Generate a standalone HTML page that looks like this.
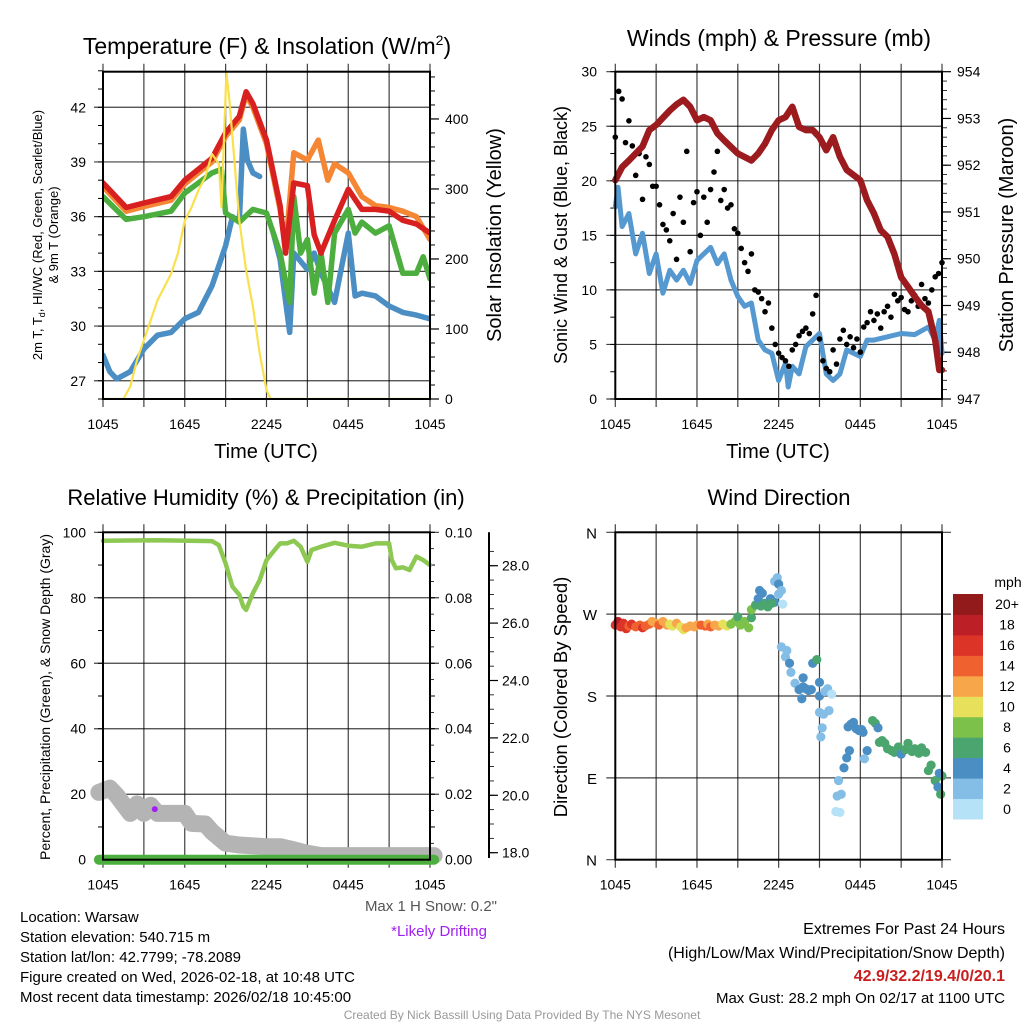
<!DOCTYPE html>
<html><head><meta charset="utf-8"><style>
body{margin:0;background:#fff;}
svg{display:block;font-family:"Liberation Sans",sans-serif;}
</style></head><body>
<svg id="c" width="1024" height="1024" viewBox="0 0 1024 1024" xmlns="http://www.w3.org/2000/svg"></svg>
<script>
// ---------- data ----------
const xTickLabels = ["1045","1645","2245","0445","1045"];
// Panel 1 temperature
const redT  = [0,1.7,3,5,6,7,8,9,10,10.5,11,12,13,13.4,14,15,15.5,16,17,18,19,20,21,22,23,24];
const redV  = [37.85,36.5,36.75,37.1,38.0,38.6,39.2,40.6,41.5,42.85,42.2,40.2,36.6,34.0,37.85,37.7,35,34,35.8,37.5,36.4,36.4,36.3,35.8,35.6,35.1];
const orgT  = [0,1.7,3,5,6,7,8,9,10,10.5,11,12,13,13.4,14,15,15.8,16.5,17,18,19,20,21,22,23,24];
const orgV  = [37.65,36.3,36.55,36.9,37.8,38.4,39.0,40.4,41.3,42.7,42.0,40.0,36.4,34.3,39.5,39.1,40.2,38.0,38.9,38.4,37.1,36.6,36.5,36.3,36.0,34.75];
const grnT  = [0,1.7,3,5,6,7,8,8.7,9,10,11,12,13,13.7,14,14.5,15,15.5,16,16.5,17,18,18.5,19,20,21,22,23,23.5,24];
const grnV  = [37.1,35.85,36.0,36.3,37.3,37.85,38.4,38.6,36.2,35.7,36.4,36.2,34,31.3,37.1,34,34.75,31.8,34,31.3,35.1,36.4,35.1,35.7,35.1,35.5,32.9,32.9,33.8,32.6];
const bluT  = [0,0.5,1,2,3,4,5,6,7,8,9,9.5,10,10.3,10.6,11,11.5,null,12.5,13,13.7,14,15,15.5,16,17,18,18.5,19,20,21,22,23,24];
const bluV  = [28.4,27.5,27.1,27.5,28.75,29.5,29.65,30.4,30.75,32.2,34.4,36,35.7,40.8,39.1,38.4,38.2,null,35.1,33.65,29.65,34,33.1,34,32.9,31.3,35.1,31.65,31.8,31.65,31.1,30.75,30.6,30.4];
const solT  = [0,1.5,2,2.5,3,4,5,5.5,6,6.5,7,7.5,8,8.5,8.7,9.06,9.3,10,10.5,11,11.5,12,12.3,24];
const solV  = [0,0,18,56,84,141,179,208,255,274,298,317,350,336,274,467,422,255,184,132,65,13,0,0];
const tempTicks = [27,30,33,36,39,42];
const solTicks = [0,100,200,300,400];
// Panel 2 winds/pressure
const presT = [0,0.5,1,2,2.5,3,4,4.5,5,5.5,6,6.5,7,7.5,8,9,10,10.5,11,11.5,12,12.5,13,13.5,14,14.5,15,15.5,16,16.5,17,18,18.5,19,19.5,20,20.5,21,21.5,22,22.5,23,23.5,23.8,24];
const presV = [951.68,951.96,952.1,952.4,952.75,952.86,953.17,953.3,953.4,953.25,952.96,953.03,952.96,952.68,952.53,952.25,952.1,952.25,952.46,952.75,952.96,953.03,953.25,952.82,952.75,952.75,952.6,952.32,952.6,952.18,951.9,951.68,951.25,950.97,950.61,950.47,950.1,949.6,949.4,949.19,949.0,948.87,948.26,947.62,947.62];
const windT = [0,0.2,0.5,1,1.5,2,2.5,3,3.5,4,4.5,5,5.5,6,7,7.5,8,8.5,9,9.5,10,10.5,11,11.5,12,12.5,12.7,13,13.5,14,14.5,15,15.5,16,16.5,17,17.5,18,18.5,19,20,21,22,23,23.5,23.8,24];
const windV = [17.6,19.4,15.8,17.0,13.3,15.2,11.5,13.3,9.7,11.8,10.9,11.8,10.6,12.7,13.9,12.4,13.3,10.9,9.4,8.5,8.8,5.4,4.5,4.2,1.7,3.3,1.1,3.0,2.3,4.8,5.4,6.0,2.3,1.7,2.3,4.5,4.2,3.9,5.4,5.4,5.7,6.0,5.9,6.6,5.4,7.2,4.2];
const gustV = [24,28.2,27.5,23.5,25.5,23.2,20.5,22.5,18.3,22.2,21.5,19.5,19.5,17.8,16.0,15.5,14.5,17.0,12.8,18.5,16.2,22.7,13.5,18.0,19.0,15.0,18.5,16.2,19.2,20.8,22.7,18.2,19.2,17.5,17.8,15.6,15.2,13.8,12.5,11.7,13.3,10.0,9.8,9.2,8.0,8.8,6.5,5.0,4.2,3.8,3.5,3.0,4.5,5.0,5.8,6.2,6.5,6.0,7.8,9.5,5.5,3.5,2.8,2.5,4.5,3.2,5.5,6.3,5.0,5.7,4.7,5.5,4.3,6.6,7.0,8.0,7.2,7.8,6.5,8.0,8.5,7.5,9.6,9.0,9.3,8.2,8.0,9.0,9.5,8.5,10.5,9.2,8.8,10.0,11.2,11.5,12.5];
const windTicks = [0,5,10,15,20,25,30];
const presTicks = [947,948,949,950,951,952,953,954];
// Panel 3 RH / precip / snow
const rhT = [0,4,8,8.5,9,9.5,10,10.3,10.5,11,11.5,12,12.5,13,13.5,14,14.5,15,15.3,16,17,18,19,20,21,21.2,21.5,22,22.5,23,23.5,24];
const rhV = [97.4,97.6,97.3,96.1,90.5,83.4,80.9,77.3,76.3,81.4,85.4,91.5,94.1,96.6,96.6,97.4,95.6,91,94.6,95.6,96.8,95.9,95.6,96.6,96.6,91.5,89.0,89.3,88.5,92.6,91.5,90];
const snowT = [-0.3,0.5,1,2,2.5,3,3.5,4,5,6,6.5,7.5,8,9,10,12,13,14,15,16,20,24.3];
const snowV = [20.1,20.25,20.0,19.37,19.7,19.37,19.65,19.37,19.37,19.37,19.02,19.0,18.73,18.33,18.27,18.21,18.21,18.1,17.98,17.9,17.9,17.9];
const precipT = [-0.3,24.3];
const precipV = [0,0];
const rhTicks = [0,20,40,60,80,100];
const prTicks = ["0.00","0.02","0.04","0.06","0.08","0.10"];
const snowTicks = [18,20,22,24,26,28];
const driftT = [3.8];
const driftV = [19.52];
// Panel 4 wind direction
const dirT = [0,0.2,0.4,0.6,0.8,1.0,1.2,1.5,1.8,2.0,2.2,2.5,2.7,3.0,3.2,3.5,3.8,4.0,4.2,4.5,4.8,5.0,5.2,5.5,5.8,6.0,6.3,6.6,6.8,7.0,7.3,7.6,7.9,8.2,8.5,8.8,9.0,9.2,9.5,9.8,10.0,10.0,10.3,10.5,10.6,10.8,11.0,11.2,11.4,11.7,11.7,11.9,12.0,12.2,12.3,12.0,11.5,10.7,
  12.2,12.5,12.8,12.6,12.9,13.2,13.5,13.7,13.8,14.0,14.2,14.4,13.8,14.5,14.8,15.0,15.0,15.4,15.6,15.9,15.0,15.3,15.7,15.2,15.1,
  16.2,16.5,16.3,16.6,16.4,16.8,17.0,17.2,17.1,17.3,17.5,17.7,17.9,18.2,18.5,18.3,18.1,18.9,19.1,19.3,19.4,19.6,19.8,
  20.0,20.3,20.5,20.8,21.0,21.3,21.5,21.8,22.0,22.3,22.5,22.8,23.0,23.2,23.5,23.7,23.9,24.0,23.8];
const dirD = [258,262,256,260,254,257,259,256,258,255,257,259,262,260,258,262,258,259,257,260,256,253,255,257,256,258,258,257,259,256,258,257,259,257,259,262,267,258,262,255,266,275,280,287,296,293,282,278,287,283,306,310,303,296,281,292,282,279,
  234,223,216,230,206,194,187,177,190,188,186,187,200,216,220,195,180,185,188,182,162,160,164,145,135,
  53,52,70,72,87,101,112,120,146,149,151,144,142,140,120,111,143,153,150,145,129,131,128,
  122,120,118,124,116,121,128,119,122,117,123,118,98,104,87,80,72,92,95];
const dirS = [17,18,17,16,17,15,16,15,14,16,15,14,12,12,14,12,12,10,10,12,10,10,12,12,12,12,14,14,12,14,12,12,10,10,8,8,6,8,8,8,6,8,6,4,4,4,6,6,4,4,2,2,4,2,0,2,6,6,
  2,2,4,2,2,2,4,4,4,4,4,4,4,4,6,4,4,2,2,0,2,2,2,2,2,
  0,0,2,2,2,4,4,4,4,4,4,4,4,4,4,2,4,6,6,4,6,6,6,
  6,6,6,6,4,6,6,6,6,6,6,6,6,6,6,4,6,6,4];
const cbLabels = ["0","2","4","6","8","10","12","14","16","18","20+"];
const cbColors = ["#b5e2f7","#84bde5","#4a8ec4","#4aa66e","#7cc14a","#e7e05a","#f7a64a","#f06130","#dc3427","#bd1f26","#931a1a"];
const dirTickLabels = ["N","E","S","W","N"];

// ---------- helpers ----------
const svg = document.getElementById('c');
const NS = "http://www.w3.org/2000/svg";
function el(tag, attrs, parent){
  const e = document.createElementNS(NS, tag);
  for (const k in attrs) e.setAttribute(k, attrs[k]);
  (parent||svg).appendChild(e);
  return e;
}
function txt(s, x, y, size, anchor, parent, fill, extra){
  const t = el('text', {x:x, y:y, 'font-size':size, 'text-anchor':anchor||'middle', fill:fill||'#000'}, parent);
  if (extra) for (const k in extra) t.setAttribute(k, extra[k]);
  t.textContent = s;
  return t;
}
function pathFrom(ts, vs, sx, sy){
  let d = "", pen = false;
  for (let i=0;i<ts.length;i++){
    if (ts[i]===null || vs[i]===null || vs[i]===undefined){ pen=false; continue; }
    d += (pen?"L":"M") + sx(ts[i]).toFixed(1) + "," + sy(vs[i]).toFixed(1);
    pen = true;
  }
  return d;
}
function frame(g, L, R, T, B, name){
  const sx = t => L + t*(R-L)/24;
  for (let h=0; h<=24; h+=3){
    const x = sx(h);
    const gl = el('line', {x1:x, y1:T-8, x2:x, y2:B+8, stroke:'#000', 'stroke-width':1.2, 'stroke-opacity':0.75}, g);
    
    
  }
  for (let i=0;i<xTickLabels.length;i++){
    const lt = txt(xTickLabels[i], sx(i*6), B+30, 14, 'middle', g);
    
    
  }
  return sx;
}
function border(g, L, R, T, B, name){
  const b = el('rect', {x:L, y:T, width:R-L, height:B-T, fill:'none', stroke:'#000', 'stroke-width':2}, g);
  
  
}
function hgrid(g, L, R, y, ext){
  el('line', {x1:L-9, y1:y, x2:R+(ext?9:0), y2:y, stroke:'#000', 'stroke-width':1.2, 'stroke-opacity':0.75}, g);
}

// ================= Panel 1 =================
{
  const L=103, R=430, T=71.7, B=399;
  const g = el('g', {});
  
  
  const sx = frame(g, L, R, T, B, 'temp');
  const sy = v => B - (v-26)*(B-T)/17.95;
  const ss = v => B - v*(B-T)/467.5;
  for (const v of tempTicks){ hgrid(g, L, R, sy(v), false);
    const t = txt(String(v), 86, sy(v)+5, 14, 'end', g);
    
     }
  for (let v=26; v<=44; v++){ el('line',{x1:L-5,y1:sy(v),x2:L,y2:sy(v),stroke:'#000','stroke-width':1}, g); }
  for (const v of solTicks){ el('line',{x1:R,y1:ss(v),x2:R+9,y2:ss(v),stroke:'#000','stroke-width':1.2}, g);
    const t = txt(String(v), R+15, ss(v)+5, 14, 'start', g);
    
     }
  for (let v=0; v<=460; v+=20){ el('line',{x1:R,y1:ss(v),x2:R+5,y2:ss(v),stroke:'#000','stroke-width':1}, g); }
  const cp = el('clipPath', {id:'cp1'}, g); el('rect',{x:L,y:T,width:R-L,height:B-T},cp);
  const lg = el('g', {'clip-path':'url(#cp1)'}, g);
  const pB = el('path', {d:pathFrom(bluT,bluV,sx,sy), fill:'none', stroke:'#4a8ec4', 'stroke-width':5.5, 'stroke-linejoin':'round','stroke-linecap':'round'}, lg);
   
  const pG = el('path', {d:pathFrom(grnT,grnV,sx,sy), fill:'none', stroke:'#4cae3e', 'stroke-width':5.5, 'stroke-linejoin':'round','stroke-linecap':'round'}, lg);
   
  const pO = el('path', {d:pathFrom(orgT,orgV,sx,sy), fill:'none', stroke:'#f58634', 'stroke-width':5.5, 'stroke-linejoin':'round','stroke-linecap':'round'}, lg);
   
  const pR = el('path', {d:pathFrom(redT,redV,sx,sy), fill:'none', stroke:'#d7201f', 'stroke-width':5.5, 'stroke-linejoin':'round','stroke-linecap':'round'}, lg);
   
  const pY = el('path', {d:pathFrom(solT,solV,sx,ss), fill:'none', stroke:'#f9e04c', 'stroke-width':2.2, 'stroke-linejoin':'round'}, lg);
   
  border(g, L, R, T, B, 'temp');
  const ti = el('text', {x:267, y:54, 'font-size':23, 'text-anchor':'middle'}, g);
  ti.innerHTML = 'Temperature (F) &amp; Insolation (W/m<tspan font-size="14" dy="-9">2</tspan><tspan dy="9">)</tspan>';
   
  const xt = txt('Time (UTC)', 266, 458, 20, 'middle', g);
   
  const y1 = el('text', {x:0,y:0,'font-size':13,'text-anchor':'middle',transform:'translate(42,235) rotate(-90)'}, g);
  y1.innerHTML = '2m T, T<tspan font-size="9" dy="3">d</tspan><tspan dy="-3">, HI/WC (Red, Green, Scarlet/Blue)</tspan>';
   
  const y2 = txt('& 9m T (Orange)', 0, 0, 13, 'middle', g, '#000', {transform:'translate(58,235) rotate(-90)'});
   
  const y3 = txt('Solar Insolation (Yellow)', 0, 0, 20, 'middle', g, '#000', {transform:'translate(501,235) rotate(-90)'});
   
}

// ================= Panel 2 =================
{
  const L=615.3, R=942, T=71.7, B=399;
  const g = el('g', {});
  
  
  const sx = frame(g, L, R, T, B, 'wind');
  const sy = v => B - v*(B-T)/30;
  const sp = v => B - (v-947)*(B-T)/7;
  for (const v of windTicks){ hgrid(g, L, R, sy(v), false);
    const t = txt(String(v), 597, sy(v)+5, 14, 'end', g);
      }
  for (let v=0; v<=30; v+=2.5){ el('line',{x1:L-5,y1:sy(v),x2:L,y2:sy(v),stroke:'#000','stroke-width':1}, g); }
  for (const v of presTicks){ el('line',{x1:R,y1:sp(v),x2:R+9,y2:sp(v),stroke:'#000','stroke-width':1.2}, g);
    const t = txt(String(v), R+15, sp(v)+5, 14, 'start', g);
      }
  for (let v=947; v<=954; v+=0.2){ el('line',{x1:R,y1:sp(v),x2:R+5,y2:sp(v),stroke:'#000','stroke-width':0.8}, g); }
  const cp = el('clipPath', {id:'cp2'}, g); el('rect',{x:L-4,y:T,width:R-L+8,height:B-T},cp);
  const lg = el('g', {'clip-path':'url(#cp2)'}, g);
  const pW = el('path', {d:pathFrom(windT,windV,sx,sy), fill:'none', stroke:'#5599d0', 'stroke-width':5, 'stroke-linejoin':'round','stroke-linecap':'round'}, lg);
   
  for (let i=0;i<gustV.length;i++){
    const c = el('circle', {cx:sx(i*0.25), cy:sy(gustV[i]), r:2.8, fill:'#000'}, lg);
     
  }
  const pP = el('path', {d:pathFrom(presT,presV,sx,sp), fill:'none', stroke:'#9b1b1e', 'stroke-width':6.5, 'stroke-linejoin':'round','stroke-linecap':'round'}, lg);
   
  border(g, L, R, T, B, 'wind');
  const ti = txt('Winds (mph) & Pressure (mb)', 779, 46, 23, 'middle', g);
   
  const xt = txt('Time (UTC)', 778, 458, 20, 'middle', g);
   
  const y1 = txt('Sonic Wind & Gust (Blue, Black)', 0, 0, 18, 'middle', g, '#000', {transform:'translate(567,235) rotate(-90)'});
   
  const y2 = txt('Station Pressure (Maroon)', 0, 0, 20, 'middle', g, '#000', {transform:'translate(1013,235) rotate(-90)'});
   
}

// ================= Panel 3 =================
{
  const L=103, R=430, T=532.3, B=859.7;
  const g = el('g', {});
  
  
  const sx = frame(g, L, R, T, B, 'rh');
  const sy = v => B - v*(B-T)/100;
  const sn = v => 852.7 - (v-18)*28.7;
  for (let i=0;i<rhTicks.length;i++){ const v=rhTicks[i]; hgrid(g, L, R, sy(v), true);
    const t = txt(String(v), 86, sy(v)+5, 14, 'end', g);
     
    const p = txt(prTicks[i], R+15, sy(v)+5, 14, 'start', g);
      }
  for (let v=0; v<=100; v+=10){ el('line',{x1:L-5,y1:sy(v),x2:L,y2:sy(v),stroke:'#000','stroke-width':1}, g);
    el('line',{x1:R,y1:sy(v),x2:R+5,y2:sy(v),stroke:'#000','stroke-width':1}, g); }
  for (let v=0; v<=100; v+=5){ el('line',{x1:R,y1:sy(v),x2:R+4,y2:sy(v),stroke:'#000','stroke-width':0.8}, g); }
  const ax = el('line',{x1:489,y1:T,x2:489,y2:858,stroke:'#000','stroke-width':2}, g);
   
  for (const v of snowTicks){ el('line',{x1:489,y1:sn(v),x2:498,y2:sn(v),stroke:'#000','stroke-width':1.2}, g);
    const t = txt(v.toFixed(1), 502, sn(v)+5, 14, 'start', g);
      }
  for (let v=18; v<=28.5; v+=0.5){ el('line',{x1:489,y1:sn(v),x2:494,y2:sn(v),stroke:'#000','stroke-width':0.8}, g); }
  const pS = el('path', {d:pathFrom(snowT,snowV,sx,sn), fill:'none', stroke:'#b4b4b4', 'stroke-width':17, 'stroke-linejoin':'round','stroke-linecap':'round'}, g);
   
  const pPr = el('path', {d:pathFrom(precipT,precipV,sx,sy), fill:'none', stroke:'#4cae3e', 'stroke-width':10, 'stroke-linecap':'round'}, g);
   
  for (let i=0;i<driftT.length;i++){
    const c = el('circle', {cx:sx(driftT[i]), cy:sn(driftV[i]), r:3, fill:'#a020f0'}, g);
     
  }
  const pH = el('path', {d:pathFrom(rhT,rhV,sx,sy), fill:'none', stroke:'#8dc853', 'stroke-width':4.5, 'stroke-linejoin':'round','stroke-linecap':'round'}, g);
   
  border(g, L, R, T, B, 'rh');
  const ti = txt('Relative Humidity (%) & Precipitation (in)', 266, 505, 22, 'middle', g);
   
  const y1 = txt('Percent, Precipitation (Green), & Snow Depth (Gray)', 0, 0, 14, 'middle', g, '#000', {transform:'translate(50,697) rotate(-90)'});
   
  const m = txt('Max 1 H Snow: 0.2"', 497, 911, 15, 'end', g, '#555');
   
  const d = txt('*Likely Drifting', 487, 936, 15, 'end', g, '#a020f0');
   
}

// ================= Panel 4 =================
{
  const L=615.3, R=942, T=532.3, B=859.7;
  const g = el('g', {});
  
  
  const sx = frame(g, L, R, T, B, 'dir');
  const sy = v => B - v*(B-T)/360;
  for (let i=0;i<dirTickLabels.length;i++){ const v=i*90; hgrid(g, L, R, sy(v), true);
    const t = txt(dirTickLabels[i], 597, sy(v)+6, 15, 'end', g);
      }
  const pg = el('g', {}, g);
  const n = Math.min(dirT.length, dirD.length);
  for (let i=0;i<n;i++){
    const idx = Math.min(10, Math.max(0, Math.floor((dirS[i]||0)/2)));
    const c = el('circle', {cx:sx(dirT[i]), cy:sy(dirD[i]), r:4.6, fill:cbColors[idx]}, pg);
     
  }
  border(g, L, R, T, B, 'dir');
  const ti = txt('Wind Direction', 779, 505, 22, 'middle', g);
   
  const y1 = txt('Direction (Colored By Speed)', 0, 0, 18.5, 'middle', g, '#000', {transform:'translate(567,697) rotate(-90)'});
   
  const cb = el('g', {}, g);
   
  const h = (819-594)/11;
  for (let i=0;i<cbColors.length;i++){
    const y = 819 - (i+1)*h;
    const r = el('rect', {x:953, y:y, width:30, height:h+0.5, fill:cbColors[i]}, cb);
     
    const t = txt(cbLabels[i], 1007, y+h/2+5, 14, 'middle', cb);
     
  }
  const u = txt('mph', 1008, 587, 14, 'middle', cb);
   
}

// ================= Footer text =================
{
  const g = el('g', {});
  
  
  const lines = ["Location: Warsaw","Station elevation: 540.715 m","Station lat/lon: 42.7799; -78.2089","Figure created on Wed, 2026-02-18, at 10:48 UTC","Most recent data timestamp: 2026/02/18 10:45:00"];
  for (let i=0;i<lines.length;i++){
    const t = txt(lines[i], 20, 922 + i*20, 15, 'start', g);
     
  }
  const e1 = txt('Extremes For Past 24 Hours', 1005, 934, 16, 'end', g);
   
  const e2 = txt('(High/Low/Max Wind/Precipitation/Snow Depth)', 1005, 958, 16, 'end', g);
   
  const e3 = txt('42.9/32.2/19.4/0/20.1', 1005, 981, 16, 'end', g, '#c81e1e', {'font-weight':'bold'});
   
  const e4 = txt('Max Gust: 28.2 mph On 02/17 at 1100 UTC', 1005, 1003, 15, 'end', g);
   
  const cr = txt('Created By Nick Bassill Using Data Provided By The NYS Mesonet', 522, 1019, 12, 'middle', g, '#999');
   
}
</script>
</body></html>
